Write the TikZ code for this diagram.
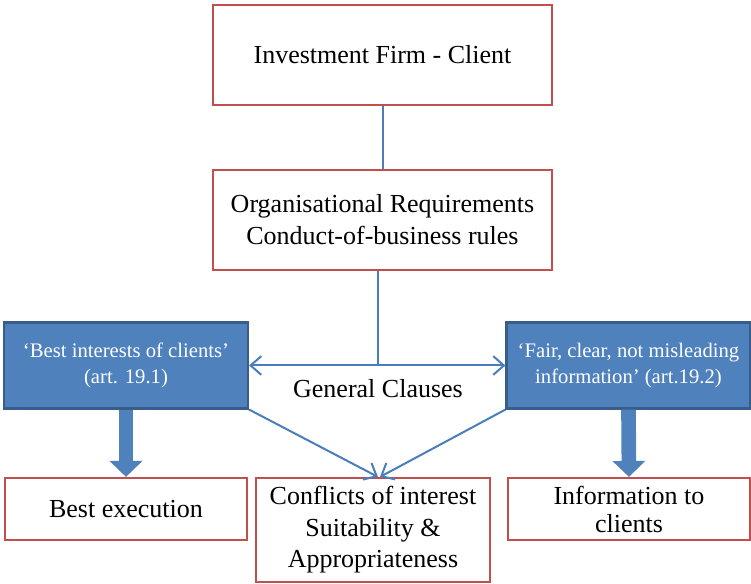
\documentclass[tikz,border=0pt]{standalone}
\usepackage{fontspec}
\setmainfont{Liberation Serif}
\usepackage{tikz}
\usetikzlibrary{arrows.meta,positioning,calc}

\definecolor{framered}{RGB}{192,80,77}
\definecolor{clausefill}{RGB}{79,129,189}
\definecolor{clauseline}{RGB}{56,93,138}
\definecolor{linkblue}{RGB}{74,126,187}

\begin{document}
\begin{tikzpicture}[
        x=0.75pt, y=-0.75pt,
        redbox/.style={rectangle, draw=framered, line width=1.6pt, fill=white, align=center, inner sep=0pt, font=\fontsize{19.5}{23.5}\selectfont},
        bluebox/.style={rectangle, draw=clauseline, line width=1.6pt, fill=clausefill, text=white, align=center, inner sep=0pt, minimum width=183pt, minimum height=64.5pt, font=\fontsize{15.5}{20}\selectfont},
        link/.style={draw=linkblue, line width=1.5pt},
        thin arrow/.style={link, -{Straight Barb[length=8pt,width=14pt]}},
        fat arrow/.style={draw=clausefill, line width=11pt, -{Triangle[length=12pt,width=24pt]}}
    ]
        \useasboundingbox (0,0) rectangle (751,584);

        \node [redbox, minimum width=254pt, minimum height=75pt] (firm) at (382.5,55) {Investment Firm - Client};
        \node [redbox, minimum width=254pt, minimum height=75pt, font=\fontsize{19.5}{24}\selectfont] (org) at (382.5,220) {Organisational Requirements\\Conduct-of-business rules};

        \node [bluebox] (best) at (126,365.5) {`Best interests of clients'\\(art. 19.1)};
        \node [bluebox] (fair) at (628.5,365.5) {`Fair, clear, not misleading\\information' (art.19.2)};
        \coordinate (hub) at (378,365.5);
        \node [font=\fontsize{19.5}{22}\selectfont] (clauses) at (378,389) {General Clauses};

        \node [redbox, minimum width=181.5pt, minimum height=46.5pt] (exec) at (126,509) {Best execution};
        \node [redbox, minimum width=175.5pt, minimum height=78pt, font=\fontsize{19.5}{23.6}\selectfont] (conf) at (373,530) {Conflicts of interest\\Suitability \&\\Appropriateness};
        \node [redbox, minimum width=181.5pt, minimum height=46.5pt, font=\fontsize{19.5}{21}\selectfont] (info) at (629,509) {Information to\\clients};

        \draw [link] (firm) -- (org);
        \draw [link] (hub |- org.south) -- (hub);
        \draw [link, {Straight Barb[length=8pt,width=14pt]}-{Straight Barb[length=8pt,width=14pt]}] (best) -- (fair);

        \draw [thin arrow] (best.south east) -- ($(conf.north)+(5,0)$);
        \draw [thin arrow] (fair.south west) -- ($(conf.north)+(7,0)$);

        \draw [fat arrow] (best.south) -- (exec.north);
        \draw [fat arrow] (fair.south) -- (info.north);
    \end{tikzpicture}
\end{document}
